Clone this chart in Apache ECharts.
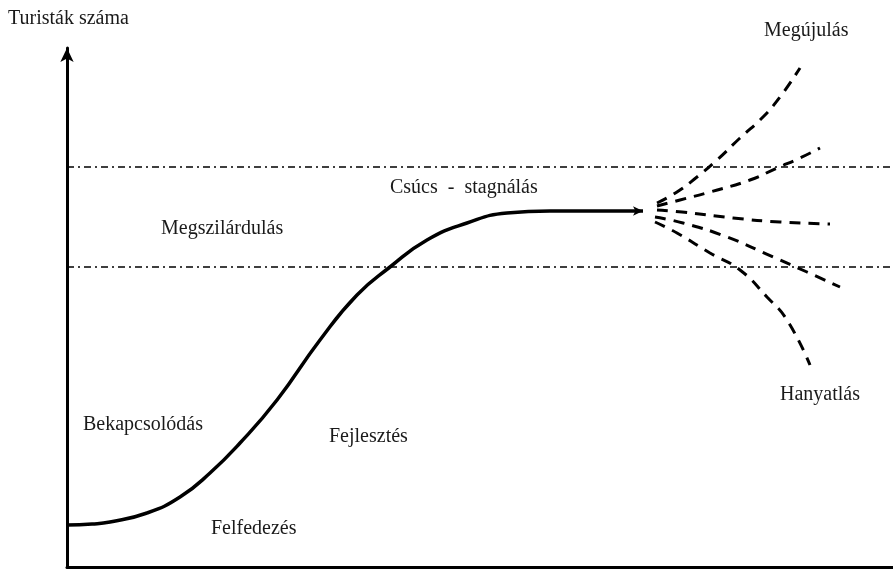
<!DOCTYPE html>
<html><head><meta charset="utf-8">
<script src="https://cdn.jsdelivr.net/npm/echarts@6/dist/echarts.min.js"></script>
<style>html,body{margin:0;padding:0;background:#fff}#c{width:893px;height:578px}</style>
</head><body><div id="c"></div>
<script>
// Time (arbitrary units) vs. number of tourists (arbitrary units)
const mainCurve = [[0,42],[25,43],[43,45],[80,54],[113,70],[143,94],[173,124],[210,167],[253,227],[290,272],[323,300],[360,327],[400,344],[440,354],[483,356],[530,356],[566,356]];
const arrowTip = [576,356];
const renewal = [[590,364],[610,375],[630,390],[650,407],[673,429],[696,450],[713,470],[733,499]];
const growth = [[590,361],[613,367],[643,375],[683,387],[710,399],[733,409],[753,419]];
const stable = [[590,357],[615,355],[666,349],[713,345],[763,343]];
const slowDecline = [[588,350],[616,344],[660,330],[706,310],[740,295],[773,280]];
const decline = [[588,345],[610,334],[643,314],[673,297],[700,270],[720,247],[743,202]];
const upperLevel = 400;
const lowerLevel = 300;
const xMax = 826, yMax = 519;
const labels = [
  {t:'Turisták száma', x:8, y:25},
  {t:'Megújulás', x:764, y:37},
  {t:'Csúcs  -  stagnálás', x:390, y:194},
  {t:'Megszilárdulás', x:161, y:235},
  {t:'Bekapcsolódás', x:83, y:431},
  {t:'Fejlesztés', x:329, y:443},
  {t:'Felfedezés', x:211, y:535},
  {t:'Hanyatlás', x:780, y:401}
];

const font = '"Liberation Serif","DejaVu Serif",serif';
const dashStyle = {color:'#000', width:3, type:[11,8], cap:'butt'};
function dashed(d){return {type:'line', data:d, smooth:0.5, symbol:'none', lineStyle:dashStyle, z:3};}
function level(v){return {type:'line', data:[[0,v],[xMax,v]], symbol:'none', lineStyle:{color:'#000', width:1.5, type:[7,4,2,4]}, z:1};}

const chart = echarts.init(document.getElementById('c'));
chart.setOption({
  animation:false,
  grid:{left:67, right:0, top:48, bottom:11},
  xAxis:{type:'value', min:0, max:xMax, axisLine:{onZero:false, lineStyle:{color:'#000', width:3}}, axisTick:{show:false}, axisLabel:{show:false}, splitLine:{show:false}},
  yAxis:{type:'value', min:0, max:yMax, axisLine:{show:true, onZero:false, symbol:['none','arrow'], symbolSize:[10,14], lineStyle:{color:'#000', width:3}}, axisTick:{show:false}, axisLabel:{show:false}, splitLine:{show:false}},
  series:[
    level(upperLevel), level(lowerLevel),
    {type:'line', data:mainCurve.concat([{value:arrowTip, symbol:'arrow', symbolSize:[7,10], symbolRotate:-90, itemStyle:{color:'#000'}}]), smooth:0.5, symbol:'none', showSymbol:true, lineStyle:{color:'#000', width:3.5}, z:4},
    dashed(renewal), dashed(growth), dashed(stable), dashed(slowDecline), dashed(decline)
  ],
  graphic: labels.map(l => ({type:'text', x:l.x, y:l.y - 16, style:{text:l.t, fill:'#1a1a1a', font:'20px '+font, verticalAlign:'top'}}))
});
</script></body></html>
